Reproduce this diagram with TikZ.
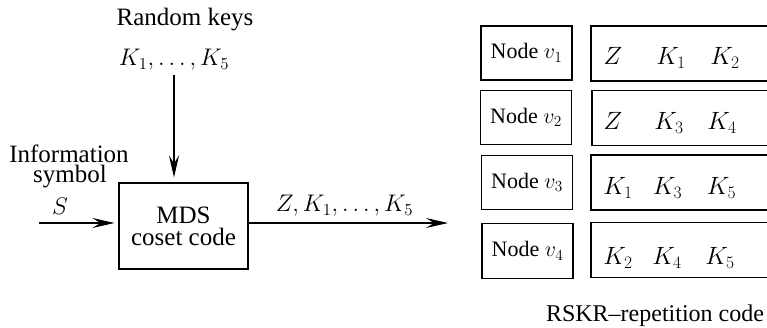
\RequirePackage{fix-cm}
\documentclass[tikz,border=0pt]{standalone}
\usepackage{fontspec}
\setmainfont{Liberation Serif}
\usetikzlibrary{arrows.meta}
\begin{document}
\begin{tikzpicture}[x=1pt,y=-1pt,
  txt/.style={font=\fontsize{25}{22}\selectfont, inner sep=0pt},
  mth/.style={font=\fontsize{24}{26}\selectfont, inner sep=0pt},
  ntxt/.style={font=\fontsize{22}{24}\selectfont},
  bigm/.style={font=\fontsize{25}{27}\selectfont, inner sep=0pt, anchor=base},
  box/.style={draw, line width=1.1pt, inner sep=0pt},
  nbox/.style={box, ntxt, minimum width=91pt, minimum height=54pt},
  kbox/.style={box, minimum width=209pt, minimum height=55pt},
  arr/.style={line width=1.1pt, -{Stealth[length=22pt,width=10pt,inset=8pt]}}]
\clip (0,0) rectangle (767,328);
% left part
\node[txt, anchor=base] (rk) at (185,26) {Random keys};
\node[mth, anchor=base] (keys) at (174,66) {$K_1,\ldots,K_5$};
\node[box, txt, align=center, minimum width=129pt, minimum height=86pt] (mds) at (183.5,226) {MDS\\coset code};
\draw[arr, shorten <=4pt, shorten >=5pt] (keys.south) -- (keys.south |- mds.north);
\node[txt, anchor=base] (info) at (69,163) {Information};
\node[txt, anchor=base] (sym) at (70,183) {symbol};
\node[mth, anchor=base] (s) at (60,215) {$S$};
\coordinate (in) at (39,223);
\draw[arr, shorten >=4pt] (in) -- (in -| mds.west);
\coordinate (out) at (448,223);
\draw[arr] (out -| mds.east) -- (out);
\node[mth, anchor=base] (zk) at (344.5,212) {$Z,K_1,\ldots,K_5$};
% right part
\node[nbox] (n1) at (526.5,53) {Node $v_1$};
\node[nbox] (n2) at (526,117.5) {Node $v_2$};
\node[nbox] (n3) at (527,182.5) {Node $v_3$};
\node[nbox, minimum height=55pt] (n4) at (527.5,251) {Node $v_4$};
\node[kbox] (k1) at (695.5,53.5) {};
\node[kbox] (k2) at (696.5,118) {};
\node[kbox] (k3) at (695.5,182.5) {};
\node[kbox] (k4) at (695.5,250) {};
\node[bigm] (z1) at (613,65) {$Z$};
\node[bigm] (a1) at (671,65) {$K_1$};
\node[bigm] (b1) at (725,65) {$K_2$};
\node[bigm] (z2) at (613,130) {$Z$};
\node[bigm] (a2) at (669,130) {$K_3$};
\node[bigm] (b2) at (722,130) {$K_4$};
\node[bigm] (z3) at (618,195) {$K_1$};
\node[bigm] (a3) at (667.5,195) {$K_3$};
\node[bigm] (b3) at (721.5,195) {$K_5$};
\node[bigm] (z4) at (618,265) {$K_2$};
\node[bigm] (a4) at (667,265) {$K_4$};
\node[bigm] (b4) at (720,265) {$K_5$};
\node[txt, font=\fontsize{24}{26}\selectfont, anchor=base] (rskr) at (655,321) {RSKR--repetition code};
\end{tikzpicture}
\end{document}
